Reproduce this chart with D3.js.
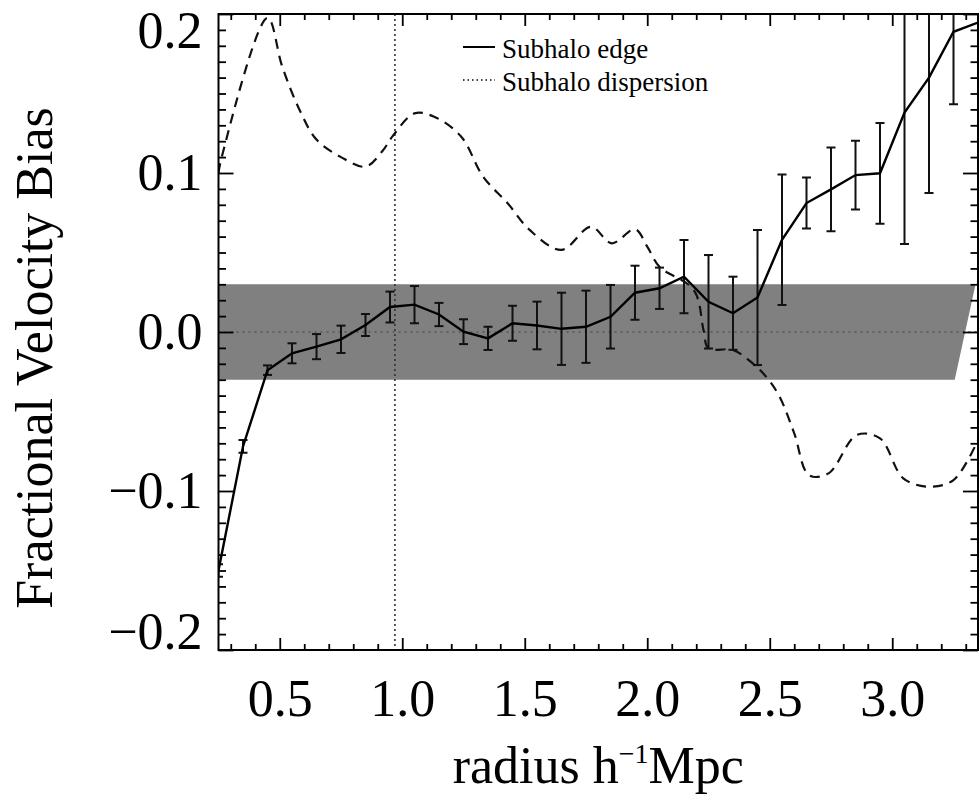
<!DOCTYPE html>
<html>
<head>
<meta charset="utf-8">
<script src="https://cdn.jsdelivr.net/npm/d3@7"></script>
<style>
  body { margin: 0; background: #fff; }
  svg { display: block; font-family: "Liberation Serif", "Times New Roman", serif; }
</style>
</head>
<body>
<svg width="980" height="795"></svg>
<script>
// ---- data ----
const radius = [0.25, 0.35, 0.45, 0.55, 0.65, 0.75, 0.85, 0.95, 1.05, 1.15, 1.25, 1.35,
  1.45, 1.55, 1.65, 1.75, 1.85, 1.95, 2.05, 2.15, 2.25, 2.35, 2.45, 2.55, 2.65, 2.75,
  2.85, 2.95, 3.05, 3.15, 3.25, 3.35]
const edgeBias = [-0.15, -0.072, -0.024, -0.0134, -0.0092, -0.0046, 0.0044, 0.0157, 0.0172,
  0.011, 0.0002, -0.004, 0.0055, 0.0041, 0.002, 0.0033, 0.0096, 0.0247, 0.0275, 0.0348,
  0.019, 0.0118, 0.0217, 0.058, 0.0811, 0.0897, 0.0987, 0.0998, 0.138, 0.160, 0.1888, 0.1946]
const edgeErr = [0.004, 0.004, 0.003, 0.0063, 0.0079, 0.0086, 0.0069, 0.0097, 0.0117, 0.0073,
  0.0078, 0.0073, 0.011, 0.015, 0.0227, 0.0227, 0.020, 0.017, 0.013, 0.023, 0.0294, 0.023,
  0.0425, 0.041, 0.016, 0.0263, 0.0216, 0.0317, 0.0826, 0.0725, 0.0455, null]

const dispRadius = [0.25, 0.26, 0.45, 0.51, 0.58, 0.65, 0.75, 0.85, 0.92, 0.96, 1.05, 1.13,
  1.24, 1.33, 1.43, 1.52, 1.65, 1.77, 1.855, 1.95, 2.0, 2.05, 2.19, 2.23, 2.25, 2.35, 2.43,
  2.49, 2.54, 2.6, 2.66, 2.74, 2.855, 2.95, 3.045, 3.15, 3.25, 3.35]
const dispBias = [0.100, 0.108, 0.1975, 0.167, 0.14, 0.121, 0.110, 0.104, 0.114, 0.123, 0.1375,
  0.1354, 0.123, 0.0977, 0.081, 0.0642, 0.0516, 0.0662, 0.0558, 0.0646, 0.0537, 0.041, 0.0264,
  0.001, -0.0103, -0.0113, -0.0197, -0.029, -0.0407, -0.0637, -0.090, -0.0889, -0.0648, -0.0669,
  -0.092, -0.0973, -0.0931, -0.0679]

// shaded band (corners)
const bandX = [0.25, 3.255, 3.34, 3.4, 0.25]
const bandY = [-0.03, -0.03, 0.03, 0.03, 0.03]
const markerRadius = 0.97

const xMajor = [0.5, 1.0, 1.5, 2.0, 2.5, 3.0]
const yMajor = [-0.2, -0.1, 0.0, 0.1, 0.2]
const legendLabels = ["Subhalo edge", "Subhalo dispersion"]

// ---- layout ----
const margin = {top: 14, right: 2, bottom: 145, left: 218.5},
    width = 980 - margin.left - margin.right,
    height = 795 - margin.top - margin.bottom
const tickFont = 52

const x = d3.scaleLinear().domain([0.25, 3.35]).range([0, width])
const y = d3.scaleLinear().domain([-0.2, 0.2]).range([height, 0])

const svg = d3.select("svg")
const g = svg.append("g").attr("transform", `translate(${margin.left},${margin.top})`)

g.append("clipPath").attr("id", "clip")
    .append("rect").attr("width", width).attr("height", height)

const plot = g.append("g").attr("clip-path", "url(#clip)")

// grey band
plot.append("path")
    .attr("d", d3.line()(bandX.map((d, i) => [x(d), y(bandY[i])])) + "Z")
    .attr("fill", "#808080")

// zero line
plot.append("line")
    .attr("x1", 0).attr("x2", width)
    .attr("y1", y(0)).attr("y2", y(0))
    .attr("stroke", "#555").attr("stroke-width", 1.6)
    .attr("stroke-dasharray", "2,4")

// vertical dotted marker
plot.append("line")
    .attr("x1", x(markerRadius)).attr("x2", x(markerRadius))
    .attr("y1", 0).attr("y2", height)
    .attr("stroke", "#333").attr("stroke-width", 1.6)
    .attr("stroke-dasharray", "2,3")

// dashed curve
plot.append("path")
    .datum(dispRadius.map((d, i) => [d, dispBias[i]]))
    .attr("d", d3.line().x(d => x(d[0])).y(d => y(d[1])).curve(d3.curveCatmullRom))
    .attr("fill", "none")
    .attr("stroke", "#111").attr("stroke-width", 2.2)
    .attr("stroke-dasharray", "10,7")

// error bars
const bars = radius.map((r, i) => ({r: r, v: edgeBias[i], e: edgeErr[i]})).filter(d => d.e != null)
const capW = 4.5
const eb = plot.append("g").attr("stroke", "#111").attr("stroke-width", 2)
eb.selectAll(".bar").data(bars).enter().append("line")
    .attr("x1", d => x(d.r)).attr("x2", d => x(d.r))
    .attr("y1", d => y(d.v - d.e)).attr("y2", d => y(d.v + d.e))
eb.selectAll(".capt").data(bars).enter().append("line")
    .attr("x1", d => x(d.r) - capW).attr("x2", d => x(d.r) + capW)
    .attr("y1", d => y(d.v + d.e)).attr("y2", d => y(d.v + d.e))
eb.selectAll(".capb").data(bars).enter().append("line")
    .attr("x1", d => x(d.r) - capW).attr("x2", d => x(d.r) + capW)
    .attr("y1", d => y(d.v - d.e)).attr("y2", d => y(d.v - d.e))

// solid line
plot.append("path")
    .datum(radius.map((d, i) => [d, edgeBias[i]]))
    .attr("d", d3.line().x(d => x(d[0])).y(d => y(d[1])))
    .attr("fill", "none")
    .attr("stroke", "#000").attr("stroke-width", 2.4)

// ---- axes (ticks on all four sides, pointing in) ----
const xMinor = d3.range(3, 34).map(d => d / 10).filter(d => xMajor.indexOf(d) < 0)
const yMinor = d3.range(-20, 21).map(d => d / 100).filter(d => Math.abs(d * 10 - Math.round(d * 10)) > 1e-6)

function styleAxis(sel) {
  sel.select(".domain").remove()
  sel.selectAll("line").attr("stroke", "#000").attr("stroke-width", 1.8)
  sel.selectAll("text").attr("font-size", tickFont).attr("fill", "#000")
      .attr("font-family", "Liberation Serif, Times New Roman, serif")
}

g.append("g").attr("transform", `translate(0,${height})`)
    .call(d3.axisBottom(x).tickValues(xMajor).tickSize(-12).tickPadding(29).tickFormat(d3.format(".1f")))
    .call(styleAxis)
g.append("g").attr("transform", `translate(0,${height})`)
    .call(d3.axisBottom(x).tickValues(xMinor).tickSize(-6).tickFormat(""))
    .call(styleAxis)
g.append("g")
    .call(d3.axisTop(x).tickValues(xMajor).tickSize(-12).tickFormat(""))
    .call(styleAxis)
g.append("g")
    .call(d3.axisTop(x).tickValues(xMinor).tickSize(-6).tickFormat(""))
    .call(styleAxis)

const yAxis = g.append("g")
    .call(d3.axisLeft(y).tickValues(yMajor).tickSize(-15).tickPadding(16).tickFormat(d3.format(".1f")))
    .call(styleAxis)
// end labels sit inside the frame
yAxis.selectAll("text").filter(d => d === 0.2).attr("dy", "0.65em")
yAxis.selectAll("text").filter(d => d === -0.2).attr("dy", "-0.02em")
g.append("g")
    .call(d3.axisLeft(y).tickValues(yMinor).tickSize(-7.5).tickFormat(""))
    .call(styleAxis)
g.append("g").attr("transform", `translate(${width},0)`)
    .call(d3.axisRight(y).tickValues(yMajor).tickSize(-15).tickFormat(""))
    .call(styleAxis)
g.append("g").attr("transform", `translate(${width},0)`)
    .call(d3.axisRight(y).tickValues(yMinor).tickSize(-7.5).tickFormat(""))
    .call(styleAxis)

// frame
g.append("rect")
    .attr("width", width).attr("height", height)
    .attr("fill", "none").attr("stroke", "#000").attr("stroke-width", 2)

// axis titles
const xTitle = svg.append("text")
    .attr("x", margin.left + width / 2).attr("y", 783)
    .attr("text-anchor", "middle").attr("font-size", tickFont)
xTitle.append("tspan").text("radius h")
xTitle.append("tspan").attr("font-size", 28).attr("dy", -20).text("\u22121")
xTitle.append("tspan").attr("dy", 20).text("Mpc")

svg.append("text")
    .attr("transform", "translate(52,358) rotate(-90)")
    .attr("text-anchor", "middle").attr("font-size", tickFont)
    .text("Fractional Velocity Bias")

// legend
const legend = svg.append("g").attr("transform", "translate(463,47)")
legendLabels.forEach((lab, i) => {
  legend.append("line")
      .attr("x1", 0).attr("x2", 32).attr("y1", i * 33).attr("y2", i * 33)
      .attr("stroke", "#000").attr("stroke-width", i === 0 ? 2 : 1.5)
      .attr("stroke-dasharray", i === 0 ? null : "1.5,3")
  legend.append("text")
      .attr("x", 39).attr("y", i * 33 + 11)
      .attr("font-size", 27)
      .text(lab)
})
</script>
</body>
</html>
